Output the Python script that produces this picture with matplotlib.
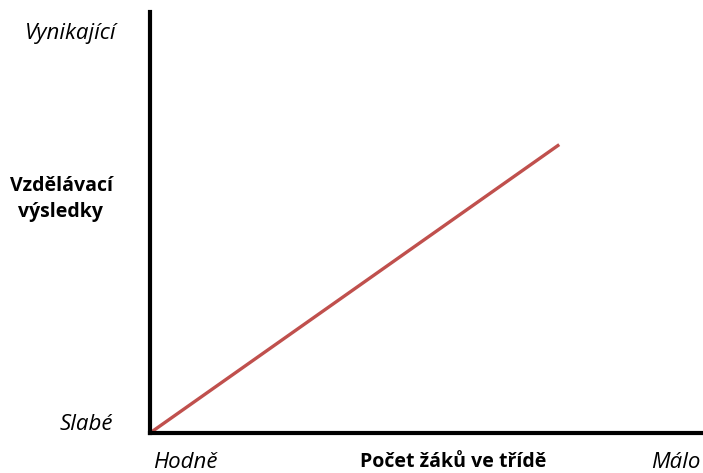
import matplotlib.pyplot as plt
import matplotlib.patheffects as pe

# data: class size (many -> few) vs. educational outcome
x_vals = [0, 7.4]
y_vals = [0, 6.85]

y_label = 'Vzdělávací\nvýsledky'
x_label = 'Počet žáků ve třídě'
y_low, y_high = 'Slabé', 'Vynikající'
x_low, x_high = 'Hodně', 'Málo'

plt.rcParams['font.family'] = ['Open Sans', 'DejaVu Sans']

fig = plt.figure(figsize=(7.03, 4.73), dpi=100)
ax = fig.add_axes([150 / 703, 40 / 473, 553 / 703, 421 / 473])

red = '#C0504D'
ax.plot(x_vals, y_vals, color=red, linewidth=2.4, solid_capstyle='butt',
        path_effects=[pe.SimplePatchShadow(offset=(1.5, -1.5), shadow_rgbFace='gray', alpha=0.3),
                      pe.Normal()])

ax.set_xlim(0, 10)
ax.set_ylim(0, 10)
ax.set_xticks([])
ax.set_yticks([])
for s in ['top', 'right']:
    ax.spines[s].set_visible(False)
for s in ['left', 'bottom']:
    ax.spines[s].set_linewidth(3)
    ax.spines[s].set_color('black')

fi = 16  # italic labels
fb = 14  # bold labels
fig.text(71 / 703, 1 - 34 / 473, y_high, fontsize=fi, style='italic', ha='center', va='center')
fig.text(61 / 703, 1 - 199 / 473, y_label, fontsize=fb, fontweight='bold', ha='center', va='center',
         linespacing=1.4)
fig.text(86 / 703, 1 - 424 / 473, y_low, fontsize=fi, style='italic', ha='center', va='center')
fig.text(185 / 703, 1 - 462 / 473, x_low, fontsize=fi, style='italic', ha='center', va='center')
fig.text(453 / 703, 1 - 462 / 473, x_label, fontsize=fb, fontweight='bold', ha='center', va='center')
fig.text(676 / 703, 1 - 462 / 473, x_high, fontsize=fi, style='italic', ha='center', va='center')

fig.savefig('out.png', dpi=100)
